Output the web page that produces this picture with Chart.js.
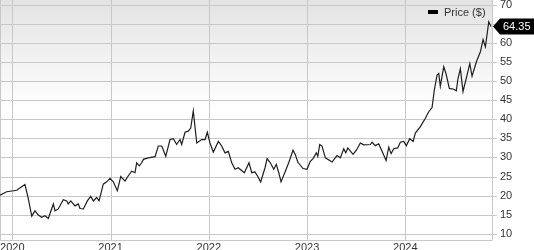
<!DOCTYPE html>
<html>
<head>
<meta charset="utf-8">
<script src="https://cdn.jsdelivr.net/npm/chart.js@4"></script>
<style>
  html, body { margin: 0; padding: 0; background: #fff; }
  #wrap { width: 534px; height: 250px; position: relative; }
</style>
</head>
<body>
<div id="wrap"><canvas id="priceChart"></canvas></div>
<script>
// decimal years
const years = [
    2019.875, 2019.943, 2020.045, 2020.096, 2020.129, 2020.163, 2020.198, 2020.231, 2020.265, 2020.299,
    2020.333, 2020.367, 2020.418, 2020.435, 2020.468, 2020.519, 2020.554, 2020.570, 2020.595, 2020.638,
    2020.672, 2020.689, 2020.723, 2020.764, 2020.798, 2020.825, 2020.859, 2020.883, 2020.926, 2020.961,
    2020.995, 2021.028, 2021.069, 2021.104, 2021.147, 2021.181, 2021.215, 2021.249, 2021.266, 2021.293,
    2021.317, 2021.334, 2021.384, 2021.453, 2021.486, 2021.521, 2021.562, 2021.605, 2021.639, 2021.673,
    2021.707, 2021.724, 2021.758, 2021.791, 2021.816, 2021.842, 2021.877, 2021.928, 2021.962, 2021.985,
    2022.012, 2022.046, 2022.097, 2022.131, 2022.165, 2022.199, 2022.233, 2022.267, 2022.300, 2022.362,
    2022.409, 2022.437, 2022.470, 2022.494, 2022.528, 2022.572, 2022.593, 2022.626, 2022.661, 2022.687,
    2022.712, 2022.735, 2022.779, 2022.813, 2022.857, 2022.880, 2022.905, 2022.959, 2022.999, 2023.033,
    2023.061, 2023.094, 2023.109, 2023.129, 2023.152, 2023.186, 2023.254, 2023.305, 2023.339, 2023.373,
    2023.394, 2023.414, 2023.468, 2023.502, 2023.542, 2023.577, 2023.644, 2023.661, 2023.695, 2023.729,
    2023.763, 2023.804, 2023.831, 2023.855, 2023.882, 2023.923, 2023.949, 2023.984, 2024.010, 2024.045,
    2024.079, 2024.102, 2024.153, 2024.204, 2024.238, 2024.272, 2024.295, 2024.323, 2024.340, 2024.356,
    2024.391, 2024.414, 2024.448, 2024.493, 2024.519, 2024.536, 2024.560, 2024.587, 2024.628, 2024.656,
    2024.679, 2024.723, 2024.764, 2024.791, 2024.815, 2024.849, 2024.872
];

const prices = [
    20.1, 21.0, 21.4, 22.3, 22.9, 19.2, 14.6, 16.0, 14.9, 14.3,
    14.7, 14.0, 17.8, 16.0, 16.5, 18.9, 18.6, 17.8, 18.6, 17.3,
    17.8, 16.6, 16.5, 18.6, 19.8, 18.6, 19.5, 18.6, 23.0, 23.6,
    24.5, 23.6, 21.3, 25.0, 23.8, 25.2, 26.4, 26.0, 28.6, 27.8,
    28.6, 29.5, 29.9, 30.2, 33.0, 33.0, 30.3, 34.7, 34.9, 33.4,
    34.7, 33.4, 36.6, 36.9, 37.7, 42.2, 33.8, 34.7, 34.7, 36.6,
    33.8, 31.4, 34.2, 33.0, 31.2, 31.6, 28.6, 26.9, 27.3, 26.0,
    28.6, 26.0, 26.2, 25.2, 23.6, 27.3, 29.7, 28.6, 26.9, 28.2,
    26.0, 23.6, 26.4, 28.6, 31.9, 30.8, 28.8, 27.1, 26.9, 29.0,
    29.7, 31.2, 30.3, 33.4, 33.0, 29.9, 28.8, 30.5, 29.9, 32.3,
    31.2, 32.5, 30.8, 31.9, 33.8, 33.3, 33.4, 34.0, 33.1, 33.6,
    31.6, 29.2, 32.7, 31.0, 32.3, 32.5, 34.0, 34.2, 33.1, 34.9,
    34.2, 36.4, 38.1, 40.3, 42.0, 43.1, 47.7, 51.6, 52.0, 48.7,
    53.8, 52.0, 48.1, 47.9, 47.5, 50.7, 53.3, 47.3, 51.6, 54.6,
    51.3, 55.1, 57.7, 60.9, 59.0, 65.6, 64.35
];

const yearTicks = [2020, 2021, 2022, 2023, 2024];
const priceTicks = [10, 15, 20, 25, 30, 35, 40, 45, 50, 55, 60, 65, 70];
const seriesLabel = 'Price ($)';

const X_MIN = 2019.875;
const X_MAX = 2024.882;
const Y_MIN = 8.35;
const Y_MAX = 71.3;

const GRID_COLOR = '#c8c8c8';
const TEXT_COLOR = '#333333';
const FONT = '"Liberation Sans", Arial, sans-serif';

Chart.defaults.font.family = FONT;
Chart.defaults.font.size = 11;
Chart.defaults.color = TEXT_COLOR;

function crisp(v) {
    return Math.round(v) + 0.5;
}

// gradient panel plus grid, drawn under the price line
const backdrop = {
    id: 'backdrop',
    beforeDatasetsDraw(chart) {
        const { ctx, chartArea: a } = chart;
        const xs = chart.scales.x;
        const ys = chart.scales.y;
        ctx.save();

        const grad = ctx.createLinearGradient(0, a.top, 0, a.top + 110);
        grad.addColorStop(0, '#e3e3e3');
        grad.addColorStop(1, '#ffffff');
        ctx.fillStyle = grad;
        ctx.fillRect(a.left, a.top, a.right - a.left, a.bottom - a.top);

        ctx.strokeStyle = GRID_COLOR;
        ctx.lineWidth = 1;
        ctx.beginPath();
        yearTicks.forEach((t) => {
            const px = crisp(xs.getPixelForValue(t));
            ctx.moveTo(px, a.top);
            ctx.lineTo(px, a.bottom);
        });
        priceTicks.forEach((t) => {
            const py = crisp(ys.getPixelForValue(t));
            ctx.moveTo(a.left, py);
            ctx.lineTo(a.right + 5, py);
        });
        // frame: left, right, bottom
        ctx.moveTo(a.left + 0.5, a.top);
        ctx.lineTo(a.left + 0.5, a.bottom);
        ctx.moveTo(crisp(a.right), a.top);
        ctx.lineTo(crisp(a.right), a.bottom);
        ctx.moveTo(a.left, crisp(a.bottom));
        ctx.lineTo(crisp(a.right), crisp(a.bottom));
        ctx.stroke();

        ctx.restore();
    }
};

const overlay = {
    id: 'overlay',
    afterDraw(chart) {
        const { ctx, chartArea: a } = chart;
        const yScale = chart.scales.y;
        ctx.save();

        // legend
        ctx.fillStyle = '#000';
        ctx.fillRect(428, 10, 10, 4);
        ctx.fillStyle = TEXT_COLOR;
        ctx.font = '11px ' + FONT;
        ctx.textBaseline = 'middle';
        ctx.textAlign = 'left';
        ctx.fillText(seriesLabel, 444, 12.5);

        // last price tag
        const last = prices[prices.length - 1];
        const py = yScale.getPixelForValue(last);
        const tip = a.right + 1;
        ctx.beginPath();
        ctx.moveTo(tip, py);
        ctx.lineTo(tip + 7, py - 8);
        ctx.lineTo(chart.width, py - 8);
        ctx.lineTo(chart.width, py + 8);
        ctx.lineTo(tip + 7, py + 8);
        ctx.closePath();
        ctx.fillStyle = '#000';
        ctx.fill();
        ctx.fillStyle = '#fff';
        ctx.fillText(last.toFixed(2), tip + 10, py + 0.5);

        ctx.restore();
    }
};

function noPadding(scale) {
    scale.paddingTop = 0;
    scale.paddingBottom = 0;
    scale.paddingLeft = 0;
    scale.paddingRight = 0;
}

window.addEventListener('DOMContentLoaded', () => {
    const ctx = document.getElementById('priceChart').getContext('2d');
    new Chart(ctx, {
        type: 'line',
        data: {
            datasets: [{
                label: seriesLabel,
                data: years.map((x, i) => ({ x: x, y: prices[i] })),
                borderColor: '#1e1e1e',
                borderWidth: 1.2,
                pointRadius: 0,
                tension: 0,
                fill: false
            }]
        },
        options: {
            responsive: true,
            maintainAspectRatio: false,
            animation: false,
            layout: { padding: 0 },
            plugins: {
                legend: { display: false },
                tooltip: { enabled: false }
            },
            scales: {
                x: {
                    type: 'linear',
                    min: X_MIN,
                    max: X_MAX,
                    afterBuildTicks: (scale) => {
                        scale.ticks = yearTicks.map((v) => ({ value: v }));
                    },
                    afterFit: (scale) => {
                        scale.height = 10;
                        noPadding(scale);
                    },
                    grid: { display: false, drawTicks: false },
                    border: { display: false },
                    ticks: {
                        padding: 1,
                        maxRotation: 0,
                        autoSkip: false,
                        callback: (v) => String(v)
                    }
                },
                y: {
                    position: 'right',
                    min: Y_MIN,
                    max: Y_MAX,
                    afterBuildTicks: (scale) => {
                        scale.ticks = priceTicks.map((v) => ({ value: v }));
                    },
                    afterFit: (scale) => {
                        scale.width = 42;
                        noPadding(scale);
                    },
                    grid: { display: false, drawTicks: false },
                    border: { display: false },
                    ticks: {
                        padding: 8,
                        autoSkip: false,
                        callback: (v) => String(v)
                    }
                }
            }
        },
        plugins: [backdrop, overlay]
    });
});
</script>
</body>
</html>
